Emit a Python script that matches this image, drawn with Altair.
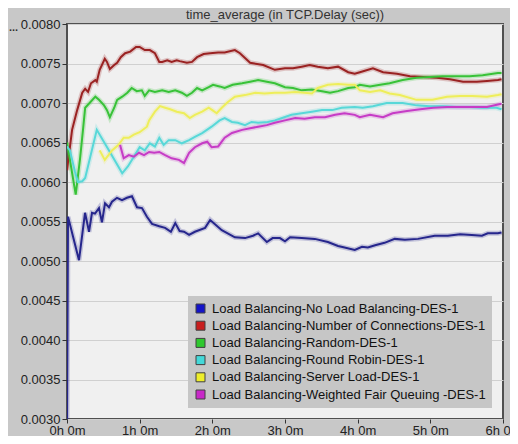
import altair as alt
import pandas as pd

TITLE = "time_average (in TCP.Delay (sec))"
series_names = [
    "Load Balancing-No Load Balancing-DES-1",
    "Load Balancing-Number of Connections-DES-1",
    "Load Balancing-Random-DES-1",
    "Load Balancing-Round Robin-DES-1",
    "Load Balancing-Server Load-DES-1",
    "Load Balancing-Weighted Fair Queuing -DES-1",
]
line_colors = ["#26268c", "#9a2222", "#38c238", "#58d8d8", "#eeee5a", "#c63cc6"]
swatch_colors = ["#1414c8", "#c81e1e", "#2ec82e", "#44d8d8", "#eeee2a", "#c828c8"]

x_ticks = [0, 1, 2, 3, 4, 5, 6]
y_ticks = [0.0030, 0.0035, 0.0040, 0.0045, 0.0050, 0.0055, 0.0060, 0.0065, 0.0070, 0.0075, 0.0080]

blue_h = [0.0, 0.014, 0.165, 0.248, 0.303, 0.344, 0.385, 0.44, 0.481, 0.523, 0.578, 0.619, 0.688,
          0.757, 0.825, 0.894, 0.963, 1.032, 1.10, 1.17, 1.27, 1.35, 1.43, 1.49, 1.55, 1.61, 1.68,
          1.76, 1.90, 1.97, 2.13, 2.31, 2.45, 2.56, 2.63, 2.75, 2.83, 2.93, 3.00, 3.07, 3.23, 3.41,
          3.59, 3.73, 3.82, 3.96, 4.06, 4.14, 4.24, 4.37, 4.51, 4.65, 4.83, 5.06, 5.24, 5.41, 5.57,
          5.71, 5.79, 5.93, 5.98]
blue_v = [0.0028, 0.00556, 0.00501, 0.00561, 0.00537, 0.00561, 0.00560, 0.00567, 0.00549, 0.00573,
          0.00568, 0.00575, 0.00580, 0.00577, 0.00580, 0.00582, 0.00568, 0.00567, 0.00556, 0.00547,
          0.00544, 0.00542, 0.00537, 0.00548, 0.00538, 0.00537, 0.00533, 0.00537, 0.00542, 0.00552,
          0.00539, 0.00530, 0.00529, 0.00532, 0.00535, 0.00524, 0.00529, 0.00529, 0.00525, 0.00530,
          0.00529, 0.00528, 0.00524, 0.00519, 0.00517, 0.00514, 0.00518, 0.00517, 0.00520, 0.00523,
          0.00528, 0.00527, 0.00528, 0.00532, 0.00532, 0.00534, 0.00533, 0.00532, 0.00535, 0.00535,
          0.00536]

red_h = [0.0, 0.07, 0.14, 0.21, 0.25, 0.29, 0.33, 0.39, 0.41, 0.45, 0.52, 0.55, 0.59, 0.65, 0.69,
         0.74, 0.80, 0.87, 0.95, 1.00, 1.07, 1.14, 1.21, 1.27, 1.31, 1.38, 1.44, 1.51, 1.55, 1.65,
         1.72, 1.79, 1.88, 1.97, 2.08, 2.17, 2.31, 2.38, 2.52, 2.70, 2.86, 3.00, 3.11, 3.23, 3.34,
         3.45, 3.59, 3.73, 3.87, 3.96, 4.03, 4.21, 4.35, 4.54, 4.72, 4.90, 5.09, 5.27, 5.45, 5.64,
         5.78, 5.93, 5.98]
red_v = [0.00615, 0.00666, 0.00691, 0.00713, 0.00718, 0.00714, 0.00725, 0.00729, 0.00727, 0.00742,
         0.00756, 0.00752, 0.00743, 0.00748, 0.00751, 0.00758, 0.00763, 0.00765, 0.00771, 0.00771,
         0.00767, 0.00767, 0.00763, 0.00752, 0.00752, 0.00754, 0.00752, 0.00754, 0.00753, 0.00751,
         0.00752, 0.00758, 0.00762, 0.00763, 0.00764, 0.00764, 0.00767, 0.00763, 0.00751, 0.00748,
         0.00742, 0.00744, 0.00744, 0.00746, 0.00748, 0.00746, 0.00744, 0.00746, 0.00739, 0.00737,
         0.00739, 0.00744, 0.00739, 0.00737, 0.00734, 0.00733, 0.00732, 0.00730, 0.00727, 0.00727,
         0.00728, 0.00729, 0.00730]

green_h = [0.0, 0.12, 0.18, 0.22, 0.25, 0.32, 0.39, 0.44, 0.51, 0.55, 0.59, 0.65, 0.69, 0.76, 0.83,
           0.89, 0.96, 1.03, 1.07, 1.13, 1.21, 1.31, 1.40, 1.49, 1.58, 1.65, 1.72, 1.79, 1.86, 1.95,
           2.01, 2.10, 2.17, 2.28, 2.41, 2.52, 2.63, 2.75, 2.86, 3.00, 3.11, 3.23, 3.37, 3.51, 3.62,
           3.73, 3.87, 3.96, 4.03, 4.17, 4.31, 4.44, 4.62, 4.81, 4.99, 5.17, 5.36, 5.54, 5.72, 5.93,
           5.98]
green_v = [0.00650, 0.00584, 0.00630, 0.00666, 0.00694, 0.00701, 0.00708, 0.00704, 0.00697, 0.00691,
           0.00682, 0.00694, 0.00704, 0.00708, 0.00713, 0.00719, 0.00715, 0.00716, 0.00709, 0.00716,
           0.00714, 0.00716, 0.00714, 0.00716, 0.00713, 0.00709, 0.00713, 0.00719, 0.00716, 0.00720,
           0.00723, 0.00721, 0.00719, 0.00723, 0.00725, 0.00727, 0.00729, 0.00727, 0.00725, 0.00720,
           0.00719, 0.00716, 0.00717, 0.00715, 0.00713, 0.00715, 0.00719, 0.00720, 0.00723, 0.00721,
           0.00723, 0.00725, 0.00729, 0.00732, 0.00733, 0.00734, 0.00734, 0.00734, 0.00735, 0.00738,
           0.00738]

cyan_h = [0.0, 0.04, 0.11, 0.15, 0.21, 0.25, 0.41, 0.59, 0.76, 0.84, 0.92, 1.00, 1.07, 1.14, 1.21,
          1.27, 1.33, 1.40, 1.49, 1.58, 1.68, 1.76, 1.86, 1.99, 2.10, 2.17, 2.27, 2.35, 2.45, 2.54,
          2.63, 2.76, 2.86, 2.96, 3.09, 3.23, 3.37, 3.51, 3.65, 3.78, 3.96, 4.07, 4.21, 4.40, 4.62,
          4.81, 4.99, 5.17, 5.36, 5.54, 5.72, 5.91, 5.98]
cyan_v = [0.00645, 0.00640, 0.00613, 0.00600, 0.00601, 0.00605, 0.00666, 0.00638, 0.00611, 0.00620,
          0.00632, 0.00644, 0.00640, 0.00649, 0.00645, 0.00656, 0.00647, 0.00653, 0.00653, 0.00649,
          0.00653, 0.00657, 0.00662, 0.00670, 0.00678, 0.00681, 0.00676, 0.00675, 0.00672, 0.00676,
          0.00675, 0.00676, 0.00678, 0.00681, 0.00685, 0.00687, 0.00689, 0.00691, 0.00691, 0.00694,
          0.00695, 0.00694, 0.00696, 0.00700, 0.00700, 0.00697, 0.00696, 0.00696, 0.00695, 0.00695,
          0.00694, 0.00694, 0.00692]

yellow_h = [0.45, 0.52, 0.62, 0.71, 0.78, 0.85, 0.92, 1.00, 1.10, 1.13, 1.21, 1.28, 1.35, 1.42, 1.51,
            1.61, 1.69, 1.76, 1.86, 1.95, 2.00, 2.06, 2.13, 2.21, 2.31, 2.45, 2.59, 2.72, 2.86, 3.00,
            3.14, 3.27, 3.37, 3.45, 3.59, 3.73, 3.87, 3.96, 4.03, 4.17, 4.31, 4.44, 4.58, 4.81, 5.03,
            5.23, 5.41, 5.58, 5.78, 5.93, 5.98]
yellow_v = [0.00640, 0.00628, 0.00640, 0.00647, 0.00656, 0.00656, 0.00660, 0.00663, 0.00670, 0.00678,
            0.00689, 0.00696, 0.00694, 0.00692, 0.00689, 0.00687, 0.00681, 0.00685, 0.00689, 0.00694,
            0.00691, 0.00687, 0.00694, 0.00701, 0.00708, 0.00710, 0.00713, 0.00712, 0.00713, 0.00713,
            0.00714, 0.00713, 0.00712, 0.00719, 0.00723, 0.00724, 0.00723, 0.00723, 0.00716, 0.00714,
            0.00716, 0.00712, 0.00710, 0.00704, 0.00704, 0.00708, 0.00709, 0.00709, 0.00708, 0.00710,
            0.00711]

magenta_h = [0.73, 0.78, 0.85, 0.92, 0.99, 1.06, 1.13, 1.20, 1.27, 1.35, 1.44, 1.54, 1.61, 1.68,
             1.76, 1.86, 1.93, 1.99, 2.08, 2.17, 2.27, 2.41, 2.52, 2.63, 2.75, 2.86, 3.00, 3.14,
             3.27, 3.41, 3.55, 3.69, 3.82, 3.96, 4.03, 4.17, 4.35, 4.48, 4.68, 4.86, 5.04, 5.23,
             5.41, 5.58, 5.78, 5.93, 5.98]
magenta_v = [0.00647, 0.00630, 0.00634, 0.00632, 0.00637, 0.00634, 0.00638, 0.00637, 0.00638,
             0.00634, 0.00630, 0.00628, 0.00624, 0.00637, 0.00644, 0.00649, 0.00651, 0.00644,
             0.00645, 0.00656, 0.00662, 0.00666, 0.00668, 0.00670, 0.00672, 0.00675, 0.00678,
             0.00681, 0.00680, 0.00682, 0.00682, 0.00685, 0.00687, 0.00685, 0.00682, 0.00685,
             0.00682, 0.00687, 0.00690, 0.00692, 0.00694, 0.00695, 0.00695, 0.00695, 0.00695,
             0.00698, 0.00699]

all_h = [blue_h, red_h, green_h, cyan_h, yellow_h, magenta_h]
all_v = [blue_v, red_v, green_v, cyan_v, yellow_v, magenta_v]

rows = []
for name, hs, vs in zip(series_names, all_h, all_v):
    for h, v in zip(hs, vs):
        rows.append({"series": name, "h": h, "v": v})
df = pd.DataFrame(rows)

FONT = "Liberation Sans"

x_enc = alt.X(
    "h:Q",
    scale=alt.Scale(domain=[0, 6], nice=False, zero=False),
    axis=alt.Axis(values=x_ticks, labelExpr="datum.value + 'h 0m'", title=None, grid=False,
                  tickSize=4, tickColor="#333333", domain=False, labelFont=FONT,
                  labelFontSize=13, labelColor="#222222", labelPadding=1, labelFlush=False),
)
y_enc = alt.Y(
    "v:Q",
    scale=alt.Scale(domain=[0.003, 0.008], nice=False, zero=False),
    axis=alt.Axis(values=y_ticks, format=".4f", title=None, grid=True, gridColor="#d0d0d0",
                  gridWidth=1, tickSize=5, tickColor="#333333", domain=False, labelFont=FONT,
                  labelFontSize=13, labelColor="#222222", labelPadding=2),
)
# line colours follow the (alphabetical = listed) order of the series names
stroke_enc = alt.Stroke("series:N", sort=series_names,
                        scale=alt.Scale(range=line_colors), legend=None)

halo = alt.Chart(df).mark_line(strokeWidth=5, opacity=0.22, clip=True).encode(
    x=x_enc, y=y_enc, stroke=stroke_enc)
lines = alt.Chart(df).mark_line(strokeWidth=2, clip=True).encode(
    x=x_enc, y=y_enc, stroke=stroke_enc)

legend_df = pd.DataFrame({"entry": series_names})
legend_layer = alt.Chart(legend_df).mark_square().encode(
    fill=alt.Fill(
        "entry:N",
        scale=alt.Scale(domain=series_names, range=swatch_colors),
        legend=alt.Legend(
            orient="none", legendX=121, legendY=272, title=None, fillColor="#c6c6c6",
            padding=6, symbolType="square", symbolSize=81, symbolStrokeColor="#404040",
            symbolStrokeWidth=1, symbolOpacity=1, labelFont=FONT, labelFontSize=13,
            labelColor="#111111", labelLimit=400, rowPadding=3.2, labelOffset=5,
        ),
    )
).transform_filter("datum.entry == 'none'")

title_layer = alt.Chart(alt.Data(values=[{"t": TITLE}])).mark_text(
    font=FONT, fontSize=13, color="#333333", align="center", baseline="alphabetic"
).encode(text="t:N", x=alt.value(218), y=alt.value(-5))

dots_layer = alt.Chart(alt.Data(values=[{"t": "..."}])).mark_text(
    font=FONT, fontSize=11, fontWeight="bold", color="#333333", align="left", baseline="alphabetic"
).encode(text="t:N", x=alt.value(-58), y=alt.value(7))

chart = alt.layer(halo, lines, legend_layer, title_layer, dots_layer).properties(
    width=436, height=395,
    autosize=alt.AutoSizeParams(type="none"),
    padding={"left": 59, "top": 16, "right": 7, "bottom": 17},
    background="#c8c8c8",
    view=alt.ViewBackground(fill="#f0f0f0", stroke="#505050", strokeWidth=2),
)

chart.save("out.html", embed_options={"renderer": "svg", "actions": False})
